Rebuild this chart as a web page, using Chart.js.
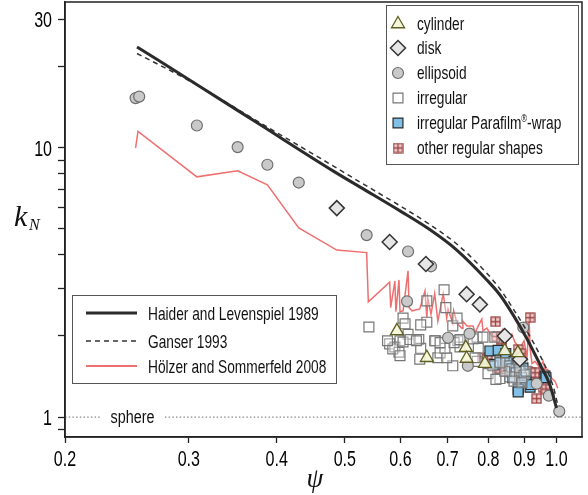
<!DOCTYPE html>
<html><head><meta charset="utf-8">
<script src="https://cdn.jsdelivr.net/npm/chart.js@4/dist/chart.umd.min.js"></script>
<style>html,body{margin:0;padding:0;background:#fff}canvas{display:block}</style>
</head><body>
<canvas id="c" width="588" height="495"></canvas>
<script>
// ---------- tick definitions ----------
const xTickValues = [0.2, 0.3, 0.4, 0.5, 0.6, 0.7, 0.8, 0.9, 1.0];
const xTickLabels = ['0.2', '0.3', '0.4', '0.5', '0.6', '0.7', '0.8', '0.9', '1.0'];
const yTickValues = [0.9, 1, 2, 3, 4, 5, 6, 7, 8, 9, 10, 20, 30];
const yTickLabels = ['', '1', '', '', '', '', '', '', '', '', '10', '', '30'];

// ---------- correlations ----------
const haiderPsi = [0.2532, 0.311, 0.3786, 0.481, 0.525, 0.599, 0.661, 0.7207, 0.796, 0.831, 0.868, 0.908, 0.947, 0.978, 1.0];
const haiderK   = [23.7, 16.9, 12.2, 8.21, 7.16, 5.83, 4.96, 4.18, 3.23, 2.84, 2.39, 1.95, 1.57, 1.32, 1.08];
const ganserPsi = [0.2532, 0.301, 0.3786, 0.481, 0.525, 0.599, 0.661, 0.7207, 0.796, 0.831, 0.868, 0.908, 0.947, 0.989, 1.005];
const ganserK   = [22.4, 17.7, 12.4, 8.57, 7.47, 6.09, 5.18, 4.40, 3.42, 2.99, 2.52, 2.08, 1.70, 1.30, 1.10];
const holzerPsi = [0.252, 0.254, 0.308, 0.352, 0.388, 0.430, 0.487, 0.537, 0.540, 0.579, 0.581, 0.589, 0.591, 0.597, 0.599, 0.605, 0.615, 0.617, 0.623, 0.639, 0.650, 0.654, 0.656, 0.663, 0.671, 0.678, 0.690, 0.698, 0.701, 0.712, 0.714, 0.722, 0.734, 0.736, 0.746, 0.761, 0.766, 0.774, 0.783, 0.786, 0.796, 0.809, 0.817, 0.831, 0.839, 0.844, 0.852, 0.864, 0.873, 0.887, 0.899, 0.908, 0.914, 0.917, 0.923, 0.932, 0.947, 0.957, 0.963, 0.972, 0.985, 0.995, 1.004];
const holzerK   = [10.0, 11.5, 7.80, 8.21, 7.29, 5.04, 4.17, 4.08, 2.68, 3.17, 2.55, 3.20, 2.46, 3.23, 2.46, 2.48, 3.49, 2.55, 2.48, 2.52, 2.94, 2.33, 2.77, 2.41, 2.87, 2.27, 2.87, 2.33, 2.52, 2.23, 2.48, 2.23, 2.13, 2.27, 2.18, 2.18, 2.05, 2.18, 2.31, 2.09, 2.14, 2.00, 2.03, 2.05, 2.12, 1.98, 1.92, 2.03, 1.89, 1.80, 1.92, 1.66, 2.33, 1.80, 1.58, 1.61, 1.52, 1.61, 1.50, 1.50, 1.39, 1.36, 1.28];
const spherePsi = [0.2, 1.087];
const sphereK   = [1, 1];

// ---------- measurements ----------
const cylinderPsi = [0.593, 0.654, 0.743, 0.745, 0.791, 0.844, 0.881];
const cylinderK   = [2.09, 1.66, 1.81, 1.65, 1.58, 1.76, 1.73];
const diskPsi = [0.487, 0.579, 0.652, 0.745, 0.778, 0.844, 0.887];
const diskK   = [5.97, 4.47, 3.70, 2.86, 2.62, 2.00, 1.64];
const ellipsoidPsi = [0.252, 0.255, 0.308, 0.352, 0.388, 0.430, 0.537, 0.615, 0.663, 0.613, 0.701, 0.752, 0.748, 0.897, 0.937, 0.975, 1.009];
const ellipsoidK   = [15.3, 15.5, 12.1, 10.06, 8.65, 7.43, 4.74, 4.12, 3.63, 2.69, 1.97, 2.04, 1.55, 2.15, 1.33, 1.20, 1.05];
const irregularPsi = [0.541, 0.605, 0.609, 0.615, 0.599, 0.579, 0.589, 0.597, 0.585, 0.637, 0.641, 0.654, 0.654, 0.641, 0.673, 0.678, 0.692, 0.696, 0.712, 0.724, 0.729, 0.712, 0.771, 0.771, 0.786, 0.799, 0.831, 0.812, 0.817, 0.683, 0.698, 0.639, 0.671, 0.694, 0.715, 0.729, 0.761, 0.774, 0.766, 0.722, 0.575, 0.605, 0.619, 0.599, 0.632, 0.683, 0.820, 0.850, 0.864, 0.876, 0.887, 0.899, 0.858, 0.870, 0.893, 0.905, 0.844, 0.831, 0.882];
const irregularK   = [2.16, 2.33, 2.22, 2.03, 1.92, 1.87, 1.82, 1.74, 1.79, 1.94, 1.80, 2.70, 2.25, 2.20, 1.92, 1.66, 2.97, 2.55, 2.18, 1.92, 1.82, 1.55, 1.98, 1.61, 1.98, 1.45, 1.39, 1.55, 1.98, 1.73, 1.66, 1.64, 1.92, 1.80, 1.89, 1.94, 1.95, 1.80, 1.66, 2.33, 1.92, 1.90, 1.94, 1.69, 1.92, 1.89, 1.38, 1.59, 1.51, 1.46, 1.53, 1.43, 1.41, 1.36, 1.34, 1.48, 1.48, 1.59, 1.64];
const parafilmPsi = [0.804, 0.817, 0.826, 0.831, 0.847, 0.847, 0.870, 0.873, 0.893, 0.896, 0.902, 0.882, 0.905, 0.882, 0.882, 0.917, 0.920, 0.963, 0.966, 0.856, 0.862, 0.878, 0.888, 0.866, 0.876, 0.892, 0.884];
const parafilmK   = [1.76, 1.57, 1.77, 1.60, 1.72, 1.59, 1.61, 1.51, 1.48, 1.52, 1.44, 1.38, 1.36, 1.27, 1.24, 1.29, 1.32, 1.42, 1.40, 1.55, 1.47, 1.42, 1.45, 1.40, 1.52, 1.40, 1.56];
const otherPsi = [0.819, 0.917, 0.822, 0.836, 0.836, 0.882, 0.890, 0.786, 0.797, 0.831, 0.847, 0.910, 0.920, 0.932, 0.957, 0.929, 0.957, 0.966, 0.937];
const otherK   = [2.26, 2.34, 1.99, 1.96, 1.87, 1.78, 1.72, 1.66, 1.64, 1.51, 1.48, 1.48, 1.46, 1.46, 1.40, 1.34, 1.29, 1.27, 1.17];

const lineNames = ['Haider and Levenspiel 1989', 'Ganser 1993', 'Hölzer and Sommerfeld 2008'];
const markerNames = ['cylinder', 'disk', 'ellipsoid', 'irregular', 'irregular Parafilm®-wrap', 'other regular shapes'];

// ---------- helpers ----------
const pts = (xs, ys) => xs.map((x, i) => ({x, y: ys[i]}));
const SANS = "'Liberation Sans', Arial, sans-serif";
const SERIF = "'Liberation Serif', 'DejaVu Serif', serif";
const SQ = 0.775; // horizontal condensing of sans text

function condText(ctx, text, x, y, size, align, sx) {
  ctx.save();
  ctx.font = size + 'px ' + SANS;
  ctx.textAlign = align || 'left';
  ctx.textBaseline = 'alphabetic';
  ctx.translate(x, y);
  ctx.scale(sx || SQ, 1);
  ctx.fillText(text, 0, 0);
  const w = ctx.measureText(text).width * (sx || SQ);
  ctx.restore();
  return w;
}

function makeCrossSquare(size) {
  const c = document.createElement('canvas');
  c.width = size; c.height = size;
  const g = c.getContext('2d');
  g.fillStyle = 'rgba(240,200,200,0.9)';
  g.fillRect(1, 1, size - 2, size - 2);
  g.strokeStyle = '#9a4242';
  g.lineWidth = 1.3;
  g.strokeRect(1, 1, size - 2, size - 2);
  g.beginPath();
  g.moveTo(size / 2, 1); g.lineTo(size / 2, size - 1);
  g.moveTo(1, size / 2); g.lineTo(size - 1, size / 2);
  g.stroke();
  return c;
}
const crossImg = makeCrossSquare(11);

const markerStyles = [
  {psi: cylinderPsi, k: cylinderK, pointStyle: 'triangle', radius: 7.5, bg: 'rgba(245,245,215,0.9)', border: '#5e5e20', bw: 1.3},
  {psi: diskPsi, k: diskK, pointStyle: 'rectRot', radius: 7.5, bg: '#e6e6e6', border: '#333333', bw: 1.5},
  {psi: ellipsoidPsi, k: ellipsoidK, pointStyle: 'circle', radius: 5.5, bg: '#c9c9c9', border: '#6e6e6e', bw: 1.2},
  {psi: irregularPsi, k: irregularK, pointStyle: 'rect', radius: 7, bg: 'rgba(255,255,255,0.35)', border: '#777777', bw: 1.2},
  {psi: parafilmPsi, k: parafilmK, pointStyle: 'rect', radius: 7, bg: '#80bfe6', border: '#2a2a2a', bw: 1.2},
  {psi: otherPsi, k: otherK, pointStyle: crossImg, radius: 6, bg: '#f0c8c8', border: '#9a4242', bw: 1.2}
];

const datasets = [
  {label: 'sphere', data: pts(spherePsi, sphereK), showLine: true, pointRadius: 0, borderColor: '#8a8a8a', borderWidth: 1.2, borderDash: [1.5, 2.2], order: 5},
  {label: lineNames[2], data: pts(holzerPsi, holzerK), showLine: true, pointRadius: 0, borderColor: 'rgba(236,95,95,0.9)', borderWidth: 1.5, tension: 0, order: 4},
];
markerStyles.forEach((m, i) => datasets.push({
  label: markerNames[i], data: pts(m.psi, m.k), showLine: false, pointStyle: m.pointStyle, pointRadius: m.radius,
  pointBackgroundColor: m.bg, pointBorderColor: m.border, pointBorderWidth: m.bw, order: 2
}));
datasets.push({label: lineNames[1], data: pts(ganserPsi, ganserK), showLine: true, pointRadius: 0, borderColor: '#333333', borderWidth: 1.5, borderDash: [5, 4], cubicInterpolationMode: 'monotone', order: 1});
datasets.push({label: lineNames[0], data: pts(haiderPsi, haiderK), showLine: true, pointRadius: 0, borderColor: '#2b2b2b', borderWidth: 3, cubicInterpolationMode: 'monotone', order: 0});

const overlay = {
  id: 'overlay',
  afterDatasetsDraw(chart) {
    const {ctx, scales} = chart;
    ctx.save();
    const ys = scales.y.getPixelForValue(1);
    ctx.fillStyle = '#fff';
    ctx.fillRect(102, ys - 3, 63, 6);
    ctx.fillStyle = '#111';
    condText(ctx, 'sphere', 132.5, ys + 6, 18, 'center', 0.8);
    ctx.restore();
  },
  afterDraw(chart) {
    const {ctx, chartArea: a, scales} = chart;
    ctx.save();
    // frame
    ctx.strokeStyle = '#222'; ctx.lineWidth = 1.5;
    ctx.strokeRect(a.left, a.top, a.right - a.left, a.bottom - a.top);

    // tick labels
    ctx.fillStyle = '#000';
    xTickValues.forEach((v, i) => {
      condText(ctx, xTickLabels[i], scales.x.getPixelForValue(v), 466, 22, 'center', 0.73);
    });
    yTickValues.forEach((v, i) => {
      if (yTickLabels[i]) condText(ctx, yTickLabels[i], 52, scales.y.getPixelForValue(v) + 7.8, 22, 'right', 0.73);
    });

    // marker legend
    ctx.fillStyle = '#fff';
    ctx.fillRect(386, 5, 192, 159);
    ctx.strokeStyle = '#555'; ctx.lineWidth = 1;
    ctx.strokeRect(386.5, 5.5, 192, 159);
    const rows = [24, 48, 73, 98, 123, 148];
    markerStyles.forEach((m, i) => {
      ctx.save();
      ctx.fillStyle = m.bg; ctx.strokeStyle = m.border; ctx.lineWidth = m.bw;
      Chart.helpers.drawPoint(ctx, {pointStyle: m.pointStyle, radius: m.radius, rotation: 0, borderWidth: m.bw}, 398, rows[i]);
      ctx.restore();
      ctx.fillStyle = '#111';
      const name = markerNames[i];
      if (name.indexOf('®') >= 0) {
        const parts = name.split('®');
        let w = condText(ctx, parts[0], 417, rows[i] + 6, 17.7);
        const w2 = condText(ctx, '®', 417 + w, rows[i] - 1, 10);
        condText(ctx, parts[1], 417 + w + w2, rows[i] + 6, 17.7);
      } else {
        condText(ctx, name, 417, rows[i] + 6, 17.7);
      }
    });

    // line legend
    ctx.fillStyle = '#fff';
    ctx.fillRect(72, 295, 264, 88);
    ctx.strokeStyle = '#555'; ctx.lineWidth = 1;
    ctx.strokeRect(72.5, 295.5, 264, 88);
    const lrows = [313, 341, 366];
    const lstyles = [
      {c: '#2b2b2b', w: 3, d: []},
      {c: '#333', w: 1.5, d: [5, 4]},
      {c: 'rgba(236,95,95,0.9)', w: 2, d: []}
    ];
    lrows.forEach((y, i) => {
      ctx.beginPath();
      ctx.strokeStyle = lstyles[i].c; ctx.lineWidth = lstyles[i].w; ctx.setLineDash(lstyles[i].d);
      ctx.moveTo(86, y); ctx.lineTo(137, y); ctx.stroke();
      ctx.setLineDash([]);
      ctx.fillStyle = '#111';
      condText(ctx, lineNames[i], 148, y + 6.5, 17.7);
    });

    // axis titles
    ctx.fillStyle = '#111';
    ctx.textBaseline = 'alphabetic';
    ctx.textAlign = 'center';
    ctx.font = 'italic 27px ' + SERIF;
    ctx.fillText('ψ', 315, 487);
    ctx.textAlign = 'left';
    ctx.font = 'italic 30px ' + SERIF;
    ctx.fillText('k', 14, 226);
    ctx.font = 'italic 16px ' + SERIF;
    ctx.fillText('N', 29, 230);
    ctx.restore();
  }
};

const stripPad = s => { s.paddingTop = 0; s.paddingBottom = 0; s.paddingLeft = 0; s.paddingRight = 0; };

new Chart(document.getElementById('c'), {
  type: 'scatter',
  data: {datasets},
  options: {
    responsive: false,
    animation: false,
    layout: {autoPadding: false, padding: {top: 2, right: 6, left: 0, bottom: 0}},
    plugins: {legend: {display: false}, tooltip: {enabled: false}},
    scales: {
      x: {
        type: 'logarithmic', min: 0.2, max: 1.087,
        afterFit: s => { s.height = 58; stripPad(s); },
        afterBuildTicks: s => { s.ticks = xTickValues.map(v => ({value: v})); },
        ticks: {display: false, autoSkip: false},
        grid: {drawOnChartArea: false, drawTicks: true, tickLength: 6, tickWidth: 1.3, tickColor: '#222'},
        border: {display: true, color: '#222', width: 1.5}
      },
      y: {
        type: 'logarithmic', min: 0.843, max: 34.8,
        afterFit: s => { s.width = 65; stripPad(s); },
        afterBuildTicks: s => { s.ticks = yTickValues.map(v => ({value: v})); },
        ticks: {display: false, autoSkip: false},
        grid: {drawOnChartArea: false, drawTicks: true, tickLength: 7, tickWidth: 1.3, tickColor: '#222'},
        border: {display: true, color: '#222', width: 1.5}
      }
    }
  },
  plugins: [overlay]
});
</script>
</body></html>
